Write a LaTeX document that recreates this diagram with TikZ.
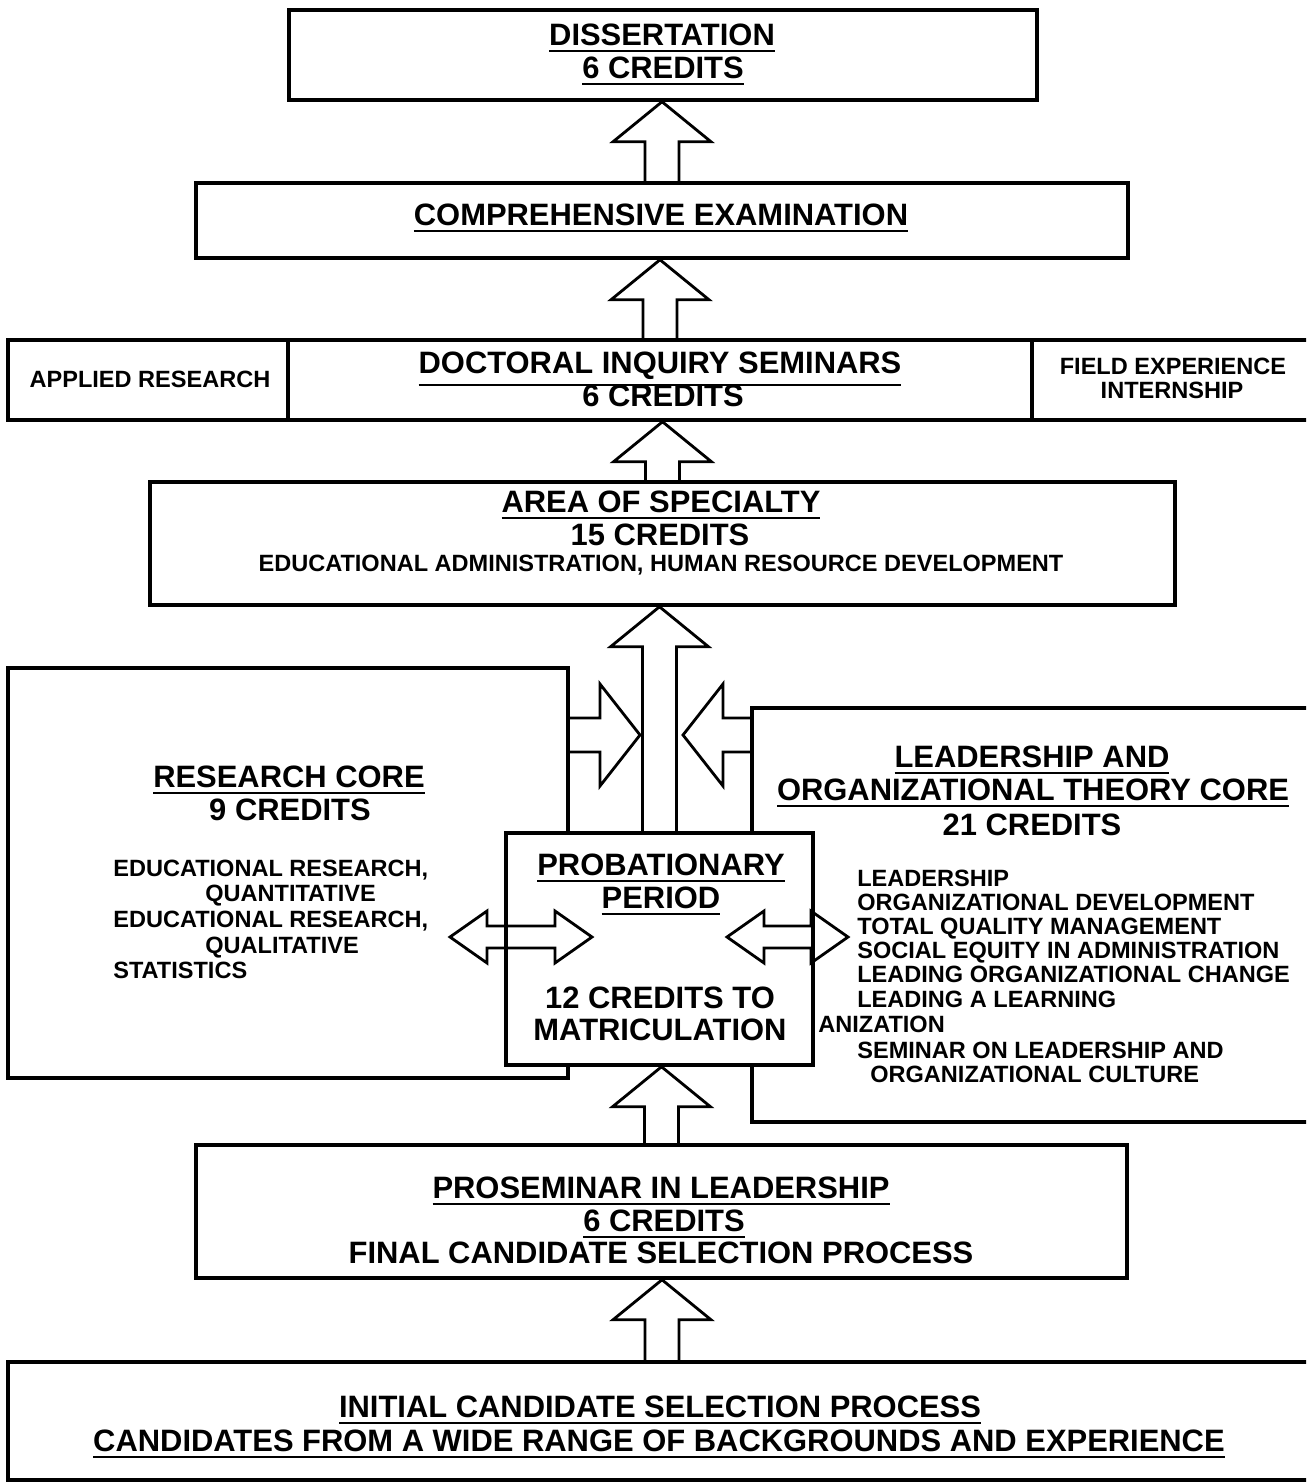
\documentclass[tikz,border=0pt]{standalone}
\usepackage{fontspec}
\setmainfont{Liberation Sans}
\usetikzlibrary{calc,fit}

\newcommand{\bigtxt}{\fontsize{17.6}{20}\selectfont\bfseries}
\newcommand{\smalltxt}{\fontsize{13.4}{15}\selectfont\bfseries}
\newcommand{\undl}[1]{\leavevmode\vtop{\hbox{#1}\kern2.6pt\hrule height 1.4pt}}

% hollow block arrows
\newcommand{\uparr}[2]{%
  \draw[blockarr] let \p1=(#1), \p2=(#2) in
    (\x1-0.34cm,\y1) -- (\x1-0.34cm,\y2-0.8cm) -- (\x1-0.98cm,\y2-0.8cm)
    -- (\x1,\y2) -- (\x1+0.98cm,\y2-0.8cm) -- (\x1+0.34cm,\y2-0.8cm) -- (\x1+0.34cm,\y1);}
\newcommand{\sidearr}[3]{%
  \draw[blockarr] let \p1=(#1), \p2=(#2) in
    (\x1,\y1+0.34cm) -- ({\x2-#3*0.8cm},\y1+0.34cm) -- ({\x2-#3*0.8cm},\y1+1.02cm)
    -- (\x2,\y1) -- ({\x2-#3*0.8cm},\y1-1.02cm) -- ({\x2-#3*0.8cm},\y1-0.34cm) -- (\x1,\y1-0.34cm);}
\newcommand{\dblarr}[2]{%
  \draw[blockarr] let \p1=(#1), \p2=(#2) in
    (\x1,\y1) -- (\x1+0.74cm,\y1+0.52cm) -- (\x1+0.74cm,\y1+0.22cm) -- (\x2-0.74cm,\y1+0.22cm)
    -- (\x2-0.74cm,\y1+0.52cm) -- (\x2,\y1) -- (\x2-0.74cm,\y1-0.52cm) -- (\x2-0.74cm,\y1-0.22cm)
    -- (\x1+0.74cm,\y1-0.22cm) -- (\x1+0.74cm,\y1-0.52cm) -- cycle;}

\tikzset{
  box/.style={draw, line width=2pt, inner sep=0pt},
  bigtext/.style={font=\bigtxt, inner sep=0pt, anchor=base},
  smalltext/.style={font=\smalltxt, inner sep=0pt, anchor=base},
  listtext/.style={font=\smalltxt, inner sep=0pt, anchor=base west},
  blockarr/.style={draw, line width=1.6pt, line join=miter}
}

\begin{document}
\begin{tikzpicture}[x=0.02cm, y=-0.02cm]
\useasboundingbox (0,0) rectangle (1306,1484);
\clip (0,0) rectangle (1306,1484);

% Top of the programme
\node[box, fit={(289,10) (1037,100)}] (diss) {};
\node[bigtext] (dissA) at (662,45) {\undl{DISSERTATION}};
\node[bigtext] (dissB) at (663,78) {\undl{6 CREDITS}};

\node[box, fit={(196,183) (1128,258)}] (comp) {};
\node[bigtext] (compA) at (661,225) {\undl{COMPREHENSIVE EXAMINATION}};

% Seminar row
\node[box, fit={(8,340) (288,420)}] (applied) {};
\node[box, fit={(288,340) (1032,420)}] (doct) {};
\node[box, fit={(1032,340) (1316,420)}] (field) {};
\node[smalltext] (appliedA) at (150,387) {APPLIED RESEARCH};
\node[bigtext] (doctA) at (660,373) {\undl{DOCTORAL INQUIRY SEMINARS}};
\node[bigtext] (doctB) at (663,406) {6 CREDITS};
\node[smalltext] (fieldA) at (1173,374) {FIELD EXPERIENCE};
\node[smalltext] (fieldB) at (1172,398) {INTERNSHIP};

% Specialty
\node[box, fit={(150,482) (1175,605)}] (area) {};
\node[bigtext] (areaA) at (661,512) {\undl{AREA OF SPECIALTY}};
\node[bigtext] (areaB) at (660,545) {15 CREDITS};
\node[smalltext] (areaC) at (661,571) {EDUCATIONAL ADMINISTRATION, HUMAN RESOURCE DEVELOPMENT};

% Cores
\node[box, fit={(8,668) (568,1078)}] (rescore) {};
\node[box, fit={(752,708) (1316,1122)}] (leadcore) {};
\node[box, fill=white, fit={(506,833) (813,1065)}] (prob) {};

\node[bigtext] (resA) at (289,787) {\undl{RESEARCH CORE}};
\node[bigtext] (resB) at (290,820) {9 CREDITS};
\node[listtext] (resC) at (113,876) {EDUCATIONAL RESEARCH,};
\node[listtext] (resD) at (205,901) {QUANTITATIVE};
\node[listtext] (resE) at (113,927) {EDUCATIONAL RESEARCH,};
\node[listtext] (resF) at (205,953) {QUALITATIVE};
\node[listtext] (resG) at (113,978) {STATISTICS};

\node[bigtext] (leadA) at (1032,767) {\undl{LEADERSHIP AND}};
\node[bigtext] (leadB) at (1033,800) {\undl{ORGANIZATIONAL THEORY CORE}};
\node[bigtext] (leadC) at (1032,835) {21 CREDITS};
\node[listtext] (leadD) at (857,886) {LEADERSHIP};
\node[listtext] (leadE) at (857,910) {ORGANIZATIONAL DEVELOPMENT};
\node[listtext] (leadF) at (857,934) {TOTAL QUALITY MANAGEMENT};
\node[listtext] (leadG) at (857,958) {SOCIAL EQUITY IN ADMINISTRATION};
\node[listtext] (leadH) at (857,982) {LEADING ORGANIZATIONAL CHANGE};
\node[listtext] (leadI) at (857,1007) {LEADING A LEARNING};
\node[listtext] (leadJ) at (818,1032) {ANIZATION};
\node[listtext] (leadK) at (857,1058) {SEMINAR ON LEADERSHIP AND};
\node[listtext] (leadL) at (870,1082) {ORGANIZATIONAL CULTURE};

\node[bigtext] (probA) at (661,875) {\undl{PROBATIONARY}};
\node[bigtext] (probB) at (661,908) {\undl{PERIOD}};
\node[bigtext] (probC) at (660,1008) {12 CREDITS TO};
\node[bigtext] (probD) at (660,1040) {MATRICULATION};

% Entry
\node[box, fit={(196,1145) (1127,1278)}] (prosem) {};
\node[bigtext] (proA) at (661,1198) {\undl{PROSEMINAR IN LEADERSHIP}};
\node[bigtext] (proB) at (664,1231) {\undl{6 CREDITS}};
\node[bigtext] (proC) at (661,1263) {FINAL CANDIDATE SELECTION PROCESS};

\node[box, fit={(8,1362) (1316,1480)}] (initial) {};
\node[bigtext] (iniA) at (660,1417) {\undl{INITIAL CANDIDATE SELECTION PROCESS}};
\node[bigtext] (iniB) at (659,1451) {\undl{CANDIDATES FROM A WIDE RANGE OF BACKGROUNDS AND EXPERIENCE}};

% Arrows
\coordinate (rin) at (640,735);
\coordinate (rout) at (rescore.north east |- rin);
\coordinate (lin) at (683,735);
\coordinate (lout) at (leadcore.north west |- lin);
\coordinate (dla) at (450,937);
\coordinate (dlb) at (592,937);
\coordinate (dra) at (727,937);
\coordinate (drb) at (848,937);

\uparr{initial.north}{prosem.south}
\uparr{prosem.north}{prob.south}
\uparr{prob.north}{area.south}
\uparr{area.north}{doct.south}
\uparr{doct.north}{comp.south}
\uparr{comp.north}{diss.south}
\sidearr{rout}{rin}{1}
\sidearr{lout}{lin}{-1}
\dblarr{dla}{dlb}
\dblarr{dra}{drb}

\end{tikzpicture}
\end{document}
